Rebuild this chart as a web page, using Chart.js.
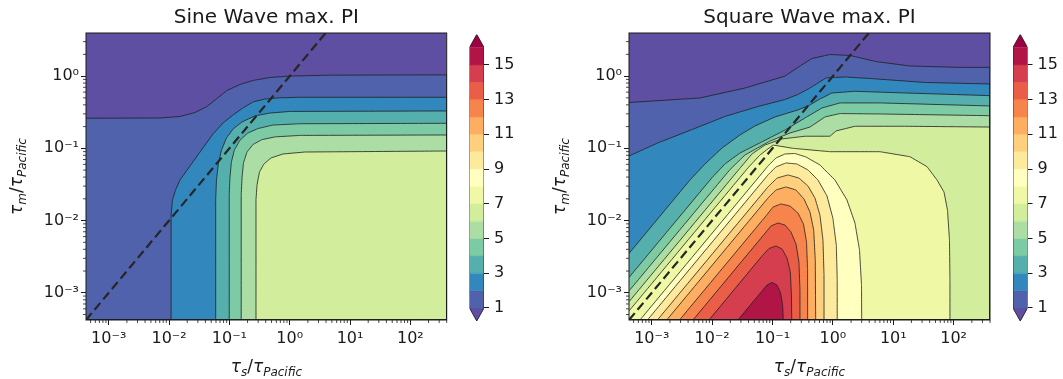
<!DOCTYPE html>
<html>
<head>
<meta charset="utf-8">
<title>max. PI</title>
<script src="https://cdn.jsdelivr.net/npm/chart.js@4.4.1/dist/chart.umd.min.js"></script>
<style>
    body { margin: 0; background: #ffffff; }
    #figure { position: relative; width: 1063px; height: 379px; overflow: hidden; }
    #figure canvas { position: absolute; top: 0; }
</style>
</head>
<body>
<div id="figure">
    <canvas id="sine-chart" width="460" height="379" style="left:0px"></canvas>
    <canvas id="sine-bar" width="80" height="379" style="left:460px"></canvas>
    <canvas id="square-chart" width="460" height="379" style="left:540px"></canvas>
    <canvas id="square-bar" width="63" height="379" style="left:1000px"></canvas>
</div>
<script>
// axis ranges, tau / tau_Pacific
const XMIN = 4.2e-4, XMAX = 400;
const YMIN = 4.2e-4, YMAX = 3.95;
const xDecades = [1e-3, 1e-2, 1e-1, 1, 10, 100];
const yDecades = [1e-3, 1e-2, 1e-1, 1];
const minorSteps = [2, 3, 4, 5, 6, 7, 8, 9];

// colorbar levels
const cbLevels = [1, 2, 3, 4, 5, 6, 7, 8, 9, 10, 11, 12, 13, 14, 15, 16];
const cbTicks = [1, 3, 5, 7, 9, 11, 13, 15];
const cbExtend = 0.75;

// tau_m = tau_s
const diagonal = [[XMIN, XMIN], [YMAX, YMAX]];

// sine wave: contour of max PI = 1 ... 6, [tau_s, tau_m]
const sine1 = [[4.2e-4, 0.261], [7.08e-3, 0.263], [1.52e-2, 0.276], [2.69e-2, 0.313], [4.25e-2, 0.379], [6.22e-2, 0.490], [9.12e-2, 0.632], [0.150, 0.766], [0.246, 0.869], [0.471, 0.957], [1.01, 1.00], [4.65, 1.03], [400, 1.04]];
const sine2 = [[1.08e-2, 4.2e-4], [1.08e-2, 1.19e-2], [1.14e-2, 1.93e-2], [1.28e-2, 2.65e-2], [1.52e-2, 3.65e-2], [2.22e-2, 5.69e-2], [3.26e-2, 8.89e-2], [5.35e-2, 0.158], [7.83e-2, 0.224], [0.115, 0.290], [0.168, 0.362], [0.246, 0.438], [0.389, 0.482], [0.690, 0.501], [1.48, 0.509], [400, 0.509]];
const sine3 = [[5.93e-2, 4.2e-4], [5.93e-2, 1.93e-2], [6.11e-2, 3.65e-2], [6.59e-2, 6.27e-2], [7.40e-2, 9.48e-2], [8.95e-2, 0.139], [0.115, 0.185], [0.162, 0.232], [0.265, 0.281], [0.471, 0.308], [1.01, 0.324], [400, 0.329]];
const sine4 = [[9.95e-2, 4.2e-4], [9.95e-2, 2.26e-2], [0.102, 3.88e-2], [0.108, 6.47e-2], [0.121, 9.48e-2], [0.150, 0.130], [0.203, 0.163], [0.298, 0.188], [0.527, 0.210], [1.48, 0.219], [400, 0.222]];
const sine5 = [[0.157, 4.2e-4], [0.157, 2.26e-2], [0.162, 3.88e-2], [0.171, 6.27e-2], [0.196, 8.89e-2], [0.246, 0.113], [0.347, 0.132], [0.570, 0.144], [1.48, 0.151], [400, 0.153]];
const sine6 = [[0.276, 4.2e-4], [0.276, 1.93e-2], [0.287, 3.10e-2], [0.315, 4.70e-2], [0.374, 6.07e-2], [0.489, 7.35e-2], [0.773, 8.35e-2], [1.79, 8.89e-2], [400, 9.18e-2]];

// square wave: contour of max PI = 1 ... 15
const sq1 = [[4.2e-4, 0.431], [6.29e-3, 0.498], [3.50e-2, 0.684], [0.161, 1.00], [0.285, 1.38], [0.451, 1.75], [0.895, 1.99], [1.92, 1.93], [5.18, 1.59], [18.9, 1.38], [127, 1.32], [400, 1.32]];
const sq2 = [[4.2e-4, 7.83e-2], [1.27e-3, 0.119], [4.64e-3, 0.182], [1.63e-2, 0.276], [5.74e-2, 0.379], [0.161, 0.474], [0.264, 0.557], [0.418, 0.684], [0.769, 0.942], [1.59, 0.972], [4.11, 0.927], [33.5, 0.816], [400, 0.778]];
const sq3 = [[4.2e-4, 3.50e-3], [4.30e-3, 3.65e-2], [7.62e-3, 6.07e-2], [1.46e-2, 0.101], [2.89e-2, 0.153], [5.13e-2, 0.204], [0.110, 0.272], [0.264, 0.340], [0.418, 0.398], [0.611, 0.482], [0.966, 0.584], [2.32, 0.616], [15.6, 0.584], [400, 0.536]];
const sq4 = [[4.2e-4, 1.63e-3], [9.95e-3, 3.92e-2], [1.63e-2, 6.07e-2], [2.89e-2, 8.61e-2], [6.21e-2, 0.119], [0.161, 0.179], [0.345, 0.263], [0.660, 0.362], [1.31, 0.425], [6.03, 0.425], [400, 0.386]];
const sq5 = [[4.2e-4, 1.06e-3], [1.98e-2, 5.09e-2], [3.50e-2, 8.09e-2], [9.08e-2, 0.126], [0.195, 0.163], [0.418, 0.197], [0.740, 0.272], [1.31, 0.303], [6.03, 0.299], [400, 0.283]];
const sq6 = [[4.2e-4, 7.52e-4], [2.89e-2, 5.31e-2], [4.57e-2, 8.35e-2], [7.50e-2, 0.111], [0.144, 0.135], [0.345, 0.147], [0.895, 0.147], [1.13, 0.174], [2.32, 0.202], [15.6, 0.202], [400, 0.197]];
const sq7 = [[4.2e-4, 5.60e-4], [3.93e-2, 5.37e-2], [6.21e-2, 8.09e-2], [0.102, 0.111], [0.218, 0.100], [0.895, 8.98e-2], [6.03, 8.98e-2], [18.9, 7.66e-2], [36.2, 5.57e-2], [53.0, 3.65e-2], [69.2, 2.48e-2], [79.1, 1.40e-2], [85.3, 5.38e-3], [86.9, 1.50e-3], [86.9, 4.2e-4]];
const sq8 = [[6.38e-4, 4.2e-4], [8.41e-2, 5.69e-2], [0.114, 7.35e-2], [0.161, 8.35e-2], [0.236, 8.48e-2], [0.358, 7.59e-2], [0.611, 5.88e-2], [1.08, 3.65e-2], [1.71, 1.93e-2], [2.32, 9.25e-3], [2.76, 3.91e-3], [2.98, 1.28e-3], [3.00, 4.2e-4]];
const sq9 = [[8.49e-4, 4.2e-4], [8.41e-2, 4.28e-2], [0.114, 5.52e-2], [0.167, 6.27e-2], [0.254, 6.07e-2], [0.387, 5.01e-2], [0.566, 3.65e-2], [0.798, 2.19e-2], [1.00, 1.08e-2], [1.14, 4.58e-3], [1.18, 1.50e-3], [1.18, 4.2e-4]];
const sq10 = [[1.24e-3, 4.2e-4], [8.41e-2, 2.92e-2], [0.119, 3.88e-2], [0.180, 4.28e-2], [0.274, 3.88e-2], [0.387, 3.01e-2], [0.505, 2.05e-2], [0.611, 1.19e-2], [0.685, 5.38e-3], [0.713, 1.76e-3], [0.713, 4.2e-4]];
const sq11 = [[1.77e-3, 4.2e-4], [8.41e-2, 2.05e-2], [0.114, 2.65e-2], [0.167, 2.92e-2], [0.245, 2.65e-2], [0.332, 1.99e-2], [0.418, 1.31e-2], [0.481, 7.40e-3], [0.511, 2.84e-3], [0.519, 4.2e-4]];
const sq12 = [[2.88e-3, 4.2e-4], [7.80e-2, 1.16e-2], [0.102, 1.54e-2], [0.138, 1.70e-2], [0.195, 1.59e-2], [0.264, 1.27e-2], [0.326, 8.95e-3], [0.366, 5.05e-3], [0.381, 2.07e-3], [0.382, 4.2e-4]];
const sq13 = [[4.82e-3, 4.2e-4], [7.23e-2, 6.41e-3], [9.44e-2, 8.41e-3], [0.123, 9.25e-3], [0.161, 8.68e-3], [0.202, 6.95e-3], [0.245, 4.73e-3], [0.274, 2.67e-3], [0.285, 1.09e-3], [0.285, 4.2e-4]];
const sq14 = [[8.87e-3, 4.2e-4], [6.70e-2, 3.23e-3], [8.75e-2, 4.10e-3], [0.114, 4.45e-3], [0.144, 4.04e-3], [0.174, 3.03e-3], [0.197, 1.94e-3], [0.206, 9.31e-4], [0.208, 4.2e-4]];
const sq15 = [[2.68e-2, 4.2e-4], [6.70e-2, 1.06e-3], [8.11e-2, 1.28e-3], [9.80e-2, 1.39e-3], [0.119, 1.28e-3], [0.136, 9.93e-4], [0.147, 6.77e-4], [0.151, 4.2e-4]];

const xLabel = [['τ', 0], ['s', 1], ['/', 2], ['τ', 0], ['Pacific', 1]];
const yLabel = [['τ', 0], ['m', 1], ['/', 2], ['τ', 0], ['Pacific', 1]];

const FONT = 'DejaVu Sans';
const ink = '#1a1a1a';
Chart.defaults.font.family = FONT;

// Spectral colormap, reversed below
const spectral = ['#9e0142', '#d53e4f', '#f46d43', '#fdae61', '#fee08b', '#ffffbf', '#e6f598', '#abdda4', '#66c2a5', '#3288bd', '#5e4fa2'];

function hexRgb(h) {
    return [1, 3, 5].map(i => parseInt(h.substr(i, 2), 16));
}

function spectralR(t) {
    const f = (1 - t) * (spectral.length - 1);
    const i = Math.min(spectral.length - 2, Math.floor(f));
    const u = f - i;
    const a = hexRgb(spectral[i]), b = hexRgb(spectral[i + 1]);
    const c = a.map((v, k) => Math.round(v * (1 - u) + b[k] * u));
    return `rgb(${c[0]}, ${c[1]}, ${c[2]})`;
}

function bandColor(level) {
    return spectralR((level - cbLevels[0] + 0.5) / (cbLevels.length - 1));
}

const underColor = spectralR(0);
const overColor = spectralR(1);

const SUP = {'-': '⁻', '0': '⁰', '1': '¹', '2': '²', '3': '³', '4': '⁴', '5': '⁵', '6': '⁶', '7': '⁷', '8': '⁸', '9': '⁹'};

function powerLabel(v) {
    const e = Math.round(Math.log10(v));
    return '10' + String(e).split('').map(c => SUP[c]).join('');
}

function toXY(points) {
    return points.map(p => ({x: p[0], y: p[1]}));
}

function minorValues(scale) {
    let out = [];
    for (let e = Math.floor(Math.log10(scale.min)); e <= Math.ceil(Math.log10(scale.max)); e++) {
        minorSteps.forEach(m => {
            const v = m * Math.pow(10, e);
            if (v >= scale.min && v <= scale.max) out.push(v);
        });
    }
    return out;
}

const frameTicks = {
    id: 'frameTicks',
    afterDatasetsDraw(chart) {
        const {ctx, chartArea: area, scales} = chart;
        ctx.save();
        ctx.strokeStyle = ink;
        ctx.lineWidth = 0.8;
        ctx.beginPath();
        minorValues(scales.x).forEach(v => {
            const px = scales.x.getPixelForValue(v);
            ctx.moveTo(px, area.bottom);
            ctx.lineTo(px, area.bottom + 3);
        });
        minorValues(scales.y).forEach(v => {
            const py = scales.y.getPixelForValue(v);
            ctx.moveTo(area.left, py);
            ctx.lineTo(area.left - 3, py);
        });
        ctx.stroke();
        ctx.lineWidth = 1;
        ctx.strokeRect(area.left, area.top, area.right - area.left, area.bottom - area.top);
        ctx.restore();
    }
};

function drawMath(ctx, parts, cx, cy, rotated) {
    const fonts = [`italic 17px "${FONT}"`, `italic 12px "${FONT}"`, `17px "${FONT}"`];
    ctx.save();
    ctx.translate(cx, cy);
    if (rotated) ctx.rotate(-Math.PI / 2);
    ctx.fillStyle = ink;
    ctx.textBaseline = 'alphabetic';
    let total = 0;
    const widths = parts.map(([t, k]) => {
        ctx.font = fonts[k];
        const w = ctx.measureText(t).width;
        total += w;
        return w;
    });
    let x = -total / 2;
    parts.forEach(([t, k], i) => {
        ctx.font = fonts[k];
        ctx.fillText(t, x, k === 1 ? 4 : 0);
        x += widths[i];
    });
    ctx.restore();
}

const mathLabels = {
    id: 'mathLabels',
    afterDraw(chart, args, opts) {
        const {ctx, chartArea: area} = chart;
        drawMath(ctx, opts.x, (area.left + area.right) / 2, 371.5, false);
        drawMath(ctx, opts.y, area.left - 64, (area.top + area.bottom) / 2, true);
    }
};

function logAxis(min, max, decades, size, isX) {
    return {
        type: 'logarithmic',
        min: min,
        max: max,
        bounds: 'data',
        afterBuildTicks: axis => {
            axis.ticks = decades.map(v => ({value: v}));
            axis.min = min;
            axis.max = max;
        },
        afterFit: axis => {
            if (isX) axis.height = size;
            else axis.width = size;
        },
        ticks: {
            callback: v => powerLabel(v),
            autoSkip: false,
            maxRotation: 0,
            minRotation: 0,
            color: ink,
            font: {size: 16},
            padding: isX ? 4 : 2
        },
        grid: {drawOnChartArea: false, color: ink, tickLength: 5, tickWidth: 1},
        border: {display: false}
    };
}

function contourChart(canvasId, title, levels, axisWidth, rightPad) {
    let datasets = [{
        data: toXY([[XMIN, YMIN], [XMIN, YMAX], [XMAX, YMAX], [XMAX, YMIN]]),
        backgroundColor: underColor,
        borderColor: 'transparent'
    }];
    levels.forEach((points, i) => {
        datasets.push({
            data: toXY(points.concat([[XMAX, YMIN], [XMIN, YMIN]])),
            backgroundColor: bandColor(cbLevels[i]),
            borderColor: '#1e1e1e',
            borderWidth: 0.8
        });
    });
    datasets.push({
        data: toXY(diagonal),
        fill: false,
        borderColor: '#262626',
        borderWidth: 2.2,
        borderDash: [9, 4.5]
    });
    // tiny tension keeps Chart.js off its fast path, which merges points per pixel column
    datasets = datasets.map((d, i) => Object.assign({
        showLine: true,
        fill: 'shape',
        pointRadius: 0,
        tension: 0.0001,
        borderJoinStyle: 'round',
        order: datasets.length - i
    }, d));

    return new Chart(document.getElementById(canvasId), {
        type: 'scatter',
        data: {datasets: datasets},
        options: {
            responsive: false,
            animation: false,
            events: [],
            layout: {padding: {left: 0, right: rightPad, top: 0, bottom: 0}},
            plugins: {
                legend: {display: false},
                tooltip: {enabled: false},
                filler: {drawTime: 'beforeDatasetsDraw'},
                title: {
                    display: true,
                    text: title,
                    fullSize: false,
                    color: ink,
                    font: {size: 20, weight: 'normal'},
                    padding: {top: 6, bottom: 3}
                },
                mathLabels: {x: xLabel, y: yLabel}
            },
            scales: {
                x: logAxis(XMIN, XMAX, xDecades, 59, true),
                y: logAxis(YMIN, YMAX, yDecades, axisWidth, false)
            }
        },
        plugins: [frameTicks, mathLabels]
    });
}

function colorbarChart(canvasId, leftPad, axisWidth) {
    const lo = cbLevels[0], hi = cbLevels[cbLevels.length - 1];
    let shapes = [{points: [[0, lo], [0.5, lo - cbExtend], [1, lo]], color: underColor}];
    for (let j = 0; j < cbLevels.length - 1; j++) {
        shapes.push({
            points: [[0, cbLevels[j]], [1, cbLevels[j]], [1, cbLevels[j + 1]], [0, cbLevels[j + 1]]],
            color: bandColor(cbLevels[j])
        });
    }
    shapes.push({points: [[0, hi], [0.5, hi + cbExtend], [1, hi]], color: overColor});

    let datasets = shapes.map(s => ({
        data: toXY(s.points),
        backgroundColor: s.color,
        borderColor: s.color,
        borderWidth: 0.5
    }));
    datasets.push({
        data: toXY([[0, lo], [0, hi], [0.5, hi + cbExtend], [1, hi], [1, lo], [0.5, lo - cbExtend], [0, lo]]),
        fill: false,
        borderColor: ink,
        borderWidth: 0.8
    });
    datasets = datasets.map((d, i) => Object.assign({
        showLine: true,
        fill: 'shape',
        pointRadius: 0,
        tension: 0.0001,
        order: datasets.length - i
    }, d));

    return new Chart(document.getElementById(canvasId), {
        type: 'scatter',
        data: {datasets: datasets},
        options: {
            responsive: false,
            animation: false,
            events: [],
            layout: {padding: {left: leftPad, right: 0, top: 34.5, bottom: 58}},
            plugins: {
                legend: {display: false},
                tooltip: {enabled: false},
                filler: {drawTime: 'beforeDatasetsDraw'}
            },
            scales: {
                x: {type: 'linear', display: false, min: 0, max: 1},
                y: {
                    type: 'linear',
                    position: 'right',
                    min: lo - cbExtend,
                    max: hi + cbExtend,
                    afterBuildTicks: axis => {
                        axis.ticks = cbTicks.map(v => ({value: v}));
                    },
                    afterFit: axis => {
                        axis.width = axisWidth;
                    },
                    ticks: {color: ink, font: {size: 16}, padding: 5},
                    grid: {drawOnChartArea: false, color: ink, tickLength: 5},
                    border: {display: false}
                }
            }
        }
    });
}

let sineChart = contourChart('sine-chart', 'Sine Wave max. PI', [sine1, sine2, sine3, sine4, sine5, sine6], 86, 13.3);
let sineBar = colorbarChart('sine-bar', 9.5, 56);
let squareChart = contourChart('square-chart', 'Square Wave max. PI',
    [sq1, sq2, sq3, sq4, sq5, sq6, sq7, sq8, sq9, sq10, sq11, sq12, sq13, sq14, sq15], 89, 10);
let squareBar = colorbarChart('square-bar', 13, 35.5);
</script>
</body>
</html>
